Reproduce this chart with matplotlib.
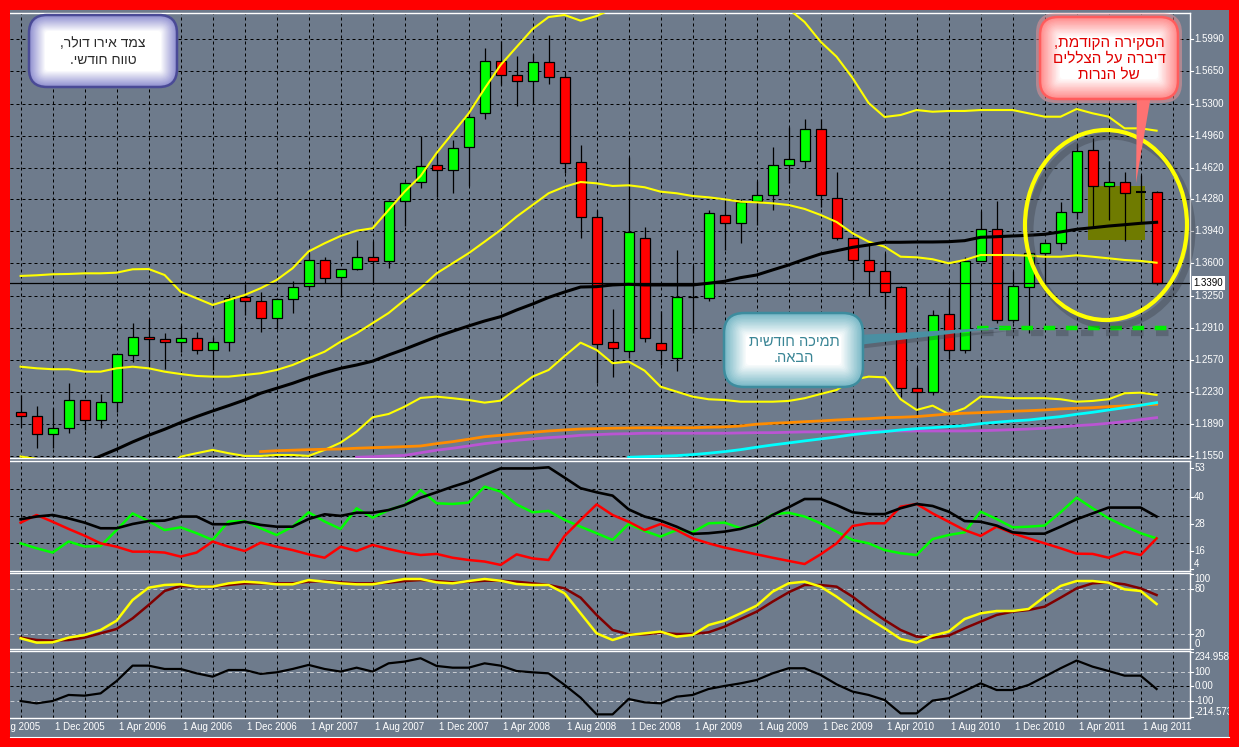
import numpy as np
import matplotlib
matplotlib.use("Agg")
import matplotlib.pyplot as plt
from matplotlib.colors import to_rgb
from matplotlib.patches import Rectangle, FancyBboxPatch, Ellipse, Polygon
from matplotlib.transforms import blended_transform_factory

W, H = 1239, 747
BG = "#6e7b8c"
plt.rcParams["font.family"] = ["Liberation Sans", "DejaVu Sans"]

# EUR/USD monthly candles, Oct 2005 .. Sep 2011 (one entry per month)
opens = [1.2012, 1.1976, 1.1784, 1.1842, 1.2140, 1.1927, 1.2119, 1.2620, 1.2812, 1.2790,
         1.2758, 1.2801, 1.2673, 1.2758, 1.3238, 1.3195, 1.3014, 1.3216, 1.3361, 1.3632,
         1.3451, 1.3536, 1.3670, 1.3621, 1.4261, 1.4463, 1.4644, 1.4591, 1.4836, 1.5198,
         1.5752, 1.5603, 1.5539, 1.5742, 1.5582, 1.4683, 1.4090, 1.2758, 1.2662, 1.3866,
         1.2748, 1.2588, 1.3236, 1.3227, 1.4112, 1.4026, 1.4261, 1.4325, 1.4644, 1.4693,
         1.5028, 1.4293, 1.3866, 1.3632, 1.3515, 1.3352, 1.2268, 1.2225, 1.3057, 1.2673,
         1.3621, 1.3962, 1.2993, 1.3344, 1.3707, 1.3813, 1.4143, 1.4804, 1.4420, 1.4463,
         1.4357, 1.4357]
highs = [1.2197, 1.2080, 1.2055, 1.2321, 1.2148, 1.2204, 1.2635, 1.2964, 1.3003, 1.2861,
         1.2940, 1.2868, 1.2815, 1.3270, 1.3376, 1.3291, 1.3225, 1.3408, 1.3707, 1.3667,
         1.3540, 1.3848, 1.3834, 1.4275, 1.4470, 1.4953, 1.4793, 1.4911, 1.5241, 1.5891,
         1.5965, 1.5812, 1.5827, 1.6033, 1.5625, 1.4857, 1.4168, 1.3110, 1.4729, 1.3984,
         1.3089, 1.3739, 1.3582, 1.4168, 1.4274, 1.4285, 1.4474, 1.4839, 1.5049, 1.5138,
         1.5138, 1.4576, 1.3880, 1.3813, 1.3707, 1.3355, 1.2492, 1.3102, 1.3323, 1.3670,
         1.4154, 1.4267, 1.3515, 1.3740, 1.3830, 1.4250, 1.4874, 1.4932, 1.4687, 1.4570,
         1.4538, 1.4370]
lows = [1.1859, 1.1635, 1.1635, 1.1795, 1.1823, 1.1848, 1.2019, 1.2545, 1.2498, 1.2477,
        1.2652, 1.2630, 1.2466, 1.2669, 1.3046, 1.2865, 1.2903, 1.3067, 1.3316, 1.3387,
        1.3244, 1.3525, 1.3380, 1.3547, 1.4000, 1.4399, 1.4303, 1.4352, 1.4420, 1.5134,
        1.5497, 1.5273, 1.5294, 1.5507, 1.4559, 1.3873, 1.2321, 1.2385, 1.2588, 1.2758,
        1.2516, 1.2449, 1.2854, 1.3202, 1.3742, 1.3820, 1.4005, 1.4165, 1.4452, 1.4612,
        1.4197, 1.3848, 1.3422, 1.3252, 1.3110, 1.2170, 1.1965, 1.2197, 1.2577, 1.2641,
        1.3620, 1.2961, 1.2961, 1.2854, 1.3302, 1.3739, 1.4069, 1.3973, 1.4058, 1.3834,
        1.4026, 1.3366]
closes = [1.1976, 1.1784, 1.1842, 1.2140, 1.1927, 1.2119, 1.2630, 1.2812, 1.2790, 1.2758,
          1.2801, 1.2673, 1.2758, 1.3227, 1.3195, 1.3014, 1.3216, 1.3344, 1.3632, 1.3440,
          1.3536, 1.3670, 1.3621, 1.4261, 1.4459, 1.4634, 1.4591, 1.4832, 1.5162, 1.5752,
          1.5603, 1.5539, 1.5742, 1.5582, 1.4666, 1.4090, 1.2740, 1.2694, 1.3930, 1.2801,
          1.2673, 1.3238, 1.3240, 1.4133, 1.4026, 1.4250, 1.4325, 1.4644, 1.4708, 1.5028,
          1.4325, 1.3866, 1.3632, 1.3515, 1.3291, 1.2268, 1.2225, 1.3046, 1.2673, 1.3621,
          1.3962, 1.2993, 1.3355, 1.3707, 1.3813, 1.4143, 1.4793, 1.4420, 1.4463, 1.4346,
          1.4357, 1.3390]

# Bollinger bands
bb_upper = [1.3465, 1.3472, 1.3483, 1.3486, 1.3493, 1.3493, 1.3500, 1.3536, 1.3539, 1.3475,
            1.3297, 1.3227, 1.3156, 1.3209, 1.3262, 1.3334, 1.3422, 1.3547, 1.3726, 1.3813,
            1.3891, 1.3947, 1.3973, 1.4168, 1.4363, 1.4530, 1.4775, 1.4986, 1.5196, 1.5462,
            1.5713, 1.5905, 1.6096, 1.6224, 1.6246, 1.6185, 1.6235, 1.6313, 1.6311, 1.6364,
            1.6441, 1.6460, 1.6456, 1.6456, 1.6420, 1.6387, 1.6375, 1.6353, 1.6310, 1.6171,
            1.5961, 1.5801, 1.5574, 1.5308, 1.5159, 1.5180, 1.5233, 1.5215, 1.5223, 1.5223,
            1.5233, 1.5233, 1.5233, 1.5198, 1.5162, 1.5162, 1.5244, 1.5198, 1.5162, 1.5038,
            1.5038, 1.5013]
bb_mid = [1.2498, 1.2481, 1.2471, 1.2471, 1.2445, 1.2445, 1.2481, 1.2498, 1.2481, 1.2445,
          1.2420, 1.2399, 1.2392, 1.2392, 1.2410, 1.2428, 1.2463, 1.2516, 1.2588, 1.2658,
          1.2765, 1.2854, 1.2962, 1.3070, 1.3209, 1.3337, 1.3493, 1.3600, 1.3707, 1.3830,
          1.3955, 1.4097, 1.4221, 1.4346, 1.4416, 1.4466, 1.4452, 1.4424, 1.4431, 1.4410,
          1.4363, 1.4346, 1.4317, 1.4303, 1.4282, 1.4256, 1.4250, 1.4239, 1.4221, 1.4179,
          1.4115, 1.4040, 1.3920, 1.3830, 1.3777, 1.3670, 1.3664, 1.3643, 1.3600, 1.3635,
          1.3688, 1.3688, 1.3688, 1.3681, 1.3670, 1.3670, 1.3685, 1.3670, 1.3653, 1.3635,
          1.3625, 1.3606]
bb_lower = [1.1541, 1.1515, 1.1458, 1.1455, 1.1398, 1.1398, 1.1462, 1.1462, 1.1423, 1.1415,
            1.1539, 1.1576, 1.1611, 1.1576, 1.1547, 1.1547, 1.1557, 1.1557, 1.1547, 1.1611,
            1.1689, 1.1806, 1.1959, 1.1994, 1.2072, 1.2165, 1.2179, 1.2162, 1.2143, 1.2115,
            1.2136, 1.2268, 1.2392, 1.2463, 1.2612, 1.2754, 1.2676, 1.2535, 1.2552, 1.2456,
            1.2285, 1.2232, 1.2179, 1.2151, 1.2143, 1.2125, 1.2125, 1.2125, 1.2133, 1.2162,
            1.2207, 1.2250, 1.2357, 1.2392, 1.2385, 1.2151, 1.2037, 1.2083, 1.1994, 1.2055,
            1.2179, 1.2172, 1.2162, 1.2162, 1.2162, 1.2151, 1.2125, 1.2133, 1.2151, 1.2215,
            1.2221, 1.2197]
# moving averages
ma_black = [1.1174, 1.1248, 1.1323, 1.1398, 1.1472, 1.1547, 1.1618, 1.1696, 1.1767, 1.1831,
            1.1902, 1.1966, 1.2026, 1.2083, 1.2143, 1.2215, 1.2268, 1.2321, 1.2381, 1.2434,
            1.2481, 1.2516, 1.2557, 1.2623, 1.2684, 1.2751, 1.2818, 1.2876, 1.2932, 1.2985,
            1.3031, 1.3102, 1.3166, 1.3236, 1.3294, 1.3347, 1.3351, 1.3369, 1.3376, 1.3369,
            1.3369, 1.3369, 1.3369, 1.3387, 1.3408, 1.3447, 1.3475, 1.3529, 1.3582, 1.3643,
            1.3699, 1.3734, 1.3770, 1.3795, 1.3824, 1.3824, 1.3827, 1.3827, 1.3830, 1.3841,
            1.3877, 1.3883, 1.3891, 1.3898, 1.3909, 1.3934, 1.3962, 1.3979, 1.3997, 1.4011,
            1.4026, 1.4037]
ma_orange = [None] * 15 + [
    1.1593, 1.1603, 1.1608, 1.1614, 1.1618, 1.1621, 1.1629, 1.1635, 1.1640, 1.1646,
    1.1653, 1.1678, 1.1699, 1.1725, 1.1752, 1.1767, 1.1784, 1.1799, 1.1813, 1.1824,
    1.1834, 1.1838, 1.1842, 1.1845, 1.1848, 1.1848, 1.1848, 1.1848, 1.1853, 1.1856,
    1.1866, 1.1885, 1.1895, 1.1902, 1.1912, 1.1920, 1.1930, 1.1938, 1.1944, 1.1955,
    1.1959, 1.1966, 1.1980, 1.1994, 1.2002, 1.2008, 1.2016, 1.2023, 1.2029, 1.2037,
    1.2048, 1.2055, 1.2061, 1.2072, 1.2080, 1.2090, 1.2098]
ma_purple = [None] * 21 + [
    1.1533, 1.1539, 1.1547, 1.1552, 1.1581, 1.1608, 1.1629, 1.1653, 1.1678, 1.1696,
    1.1714, 1.1728, 1.1742, 1.1752, 1.1767, 1.1774, 1.1781, 1.1784, 1.1789, 1.1789,
    1.1789, 1.1789, 1.1789, 1.1789, 1.1792, 1.1795, 1.1795, 1.1799, 1.1803, 1.1803,
    1.1806, 1.1806, 1.1810, 1.1813, 1.1813, 1.1813, 1.1813, 1.1813, 1.1813, 1.1816,
    1.1821, 1.1827, 1.1834, 1.1842, 1.1856, 1.1870, 1.1880, 1.1895, 1.1912, 1.1934,
    1.1955]
ma_cyan = [None] * 38 + [
    1.1533, 1.1539, 1.1544, 1.1550, 1.1561, 1.1576, 1.1593, 1.1614, 1.1640, 1.1664,
    1.1685, 1.1707, 1.1728, 1.1749, 1.1774, 1.1792, 1.1806, 1.1824, 1.1838, 1.1848,
    1.1859, 1.1870, 1.1891, 1.1906, 1.1920, 1.1930, 1.1949, 1.1966, 1.1991, 1.2012,
    1.2037, 1.2061, 1.2087, 1.2115]

# ADX panel
adx = [30.1, 31.3, 32.0, 30.5, 28.6, 26.1, 26.1, 28.0, 29.3, 29.5,
       31.3, 31.3, 27.9, 27.9, 29.0, 27.6, 26.8, 26.8, 30.2, 32.3,
       31.6, 33.0, 33.0, 34.2, 36.4, 39.7, 42.1, 44.6, 46.8, 49.8,
       52.7, 52.7, 52.7, 53.2, 48.6, 43.9, 42.1, 40.6, 34.5, 31.3,
       29.5, 26.8, 23.6, 23.9, 24.6, 25.8, 28.0, 32.0, 35.4, 39.1,
       39.1, 36.4, 33.2, 32.4, 32.4, 35.0, 36.9, 36.0, 33.5, 29.3,
       29.0, 27.3, 24.3, 23.7, 23.7, 26.8, 30.1, 32.7, 35.3, 35.3,
       35.3, 31.3]
plus_di = [19.4, 17.2, 15.3, 20.2, 18.0, 18.2, 25.3, 32.7, 29.3, 25.3,
           26.5, 23.9, 20.9, 29.1, 29.3, 26.1, 23.1, 26.8, 33.2, 29.1,
           25.8, 35.0, 30.8, 34.2, 36.4, 43.1, 37.2, 36.9, 37.5, 44.6,
           42.4, 36.7, 33.2, 33.8, 29.8, 26.8, 23.9, 20.9, 28.0, 24.9,
           22.4, 25.3, 24.3, 28.3, 28.6, 26.1, 27.6, 32.3, 33.0, 31.3,
           28.3, 24.6, 20.9, 19.4, 16.4, 15.0, 14.2, 21.3, 23.1, 24.3,
           33.5, 30.2, 26.5, 26.8, 27.3, 33.2, 39.7, 35.0, 30.5, 27.1,
           23.9, 21.6]
minus_di = [28.6, 32.0, 29.0, 25.8, 22.8, 19.4, 17.9, 15.7, 15.7, 15.3,
            13.5, 15.3, 20.2, 17.9, 16.0, 19.7, 17.9, 16.4, 14.5, 13.0,
            17.9, 16.0, 18.7, 16.9, 15.3, 14.2, 14.7, 13.0, 12.0, 11.3,
            9.8, 14.5, 12.7, 12.0, 22.7, 29.8, 36.7, 32.0, 29.0, 25.3,
            28.0, 25.3, 21.6, 19.4, 17.5, 16.0, 14.5, 13.0, 11.6, 10.2,
            14.5, 19.4, 27.1, 28.3, 28.3, 35.7, 36.9, 32.7, 29.0, 25.3,
            22.7, 26.8, 23.9, 21.6, 19.4, 17.2, 14.8, 14.7, 13.0, 15.7,
            14.2, 21.6]
# Stochastic panel
stoch_k = [14.7, 8.9, 9.3, 15.6, 19.1, 25.8, 38.2, 65.8, 82.2, 85.8,
           86.7, 83.6, 83.6, 88.0, 90.2, 88.9, 86.7, 86.7, 92.4, 90.2,
           88.0, 86.7, 86.7, 90.2, 93.8, 93.8, 89.3, 88.0, 91.1, 93.8,
           91.5, 87.1, 85.8, 85.8, 74.7, 48.0, 21.3, 12.4, 19.1, 21.3,
           23.6, 16.9, 19.1, 32.4, 38.2, 48.0, 58.2, 76.9, 88.0, 90.2,
           83.6, 70.2, 54.7, 41.3, 28.0, 13.8, 8.9, 18.2, 23.6, 40.4,
           48.0, 51.1, 51.1, 53.8, 70.2, 84.5, 91.1, 91.1, 88.9, 80.0,
           77.8, 60.4]
stoch_d = [15.6, 12.4, 11.6, 12.4, 15.6, 21.3, 27.1, 41.3, 59.1, 77.8,
           84.5, 83.6, 83.6, 85.8, 88.0, 88.0, 88.0, 88.0, 90.2, 91.1,
           89.3, 88.0, 88.0, 88.9, 91.1, 92.4, 91.1, 89.3, 90.2, 91.5,
           91.5, 90.2, 88.0, 85.8, 81.3, 68.9, 45.8, 25.8, 20.0, 20.0,
           22.2, 20.4, 20.4, 22.7, 30.2, 40.4, 50.2, 63.6, 76.0, 85.8,
           85.8, 83.6, 70.2, 53.8, 39.1, 25.8, 16.9, 15.6, 18.2, 28.0,
           36.9, 45.8, 50.2, 52.4, 56.9, 68.9, 81.3, 88.0, 89.3, 86.7,
           81.3, 72.4]
# CCI panel
cci = [-102, -118, -102, -60, -65, -49, 36, 142, 142, 119,
       119, 89, 66, 112, 112, 85, 96, 119, 147, 119,
       101, 128, 101, 158, 170, 193, 140, 128, 128, 158,
       142, 105, 96, 89, 9, -79, -194, -194, -88, -111,
       -118, -72, -60, -19, 2, 20, 43, 89, 124, 124,
       78, 13, -37, -60, -95, -187, -187, -99, -83, -33,
       20, -26, -26, 9, 66, 124, 177, 135, 105, 73,
       73, -19]

price_ticks = [1.1550, 1.1890, 1.2230, 1.2570, 1.2910, 1.3250, 1.3600,
               1.3940, 1.4280, 1.4620, 1.4960, 1.5300, 1.5650, 1.5990]
last_price = 1.3390
date_labels = ["1 Aug 2005", "1 Dec 2005", "1 Apr 2006", "1 Aug 2006", "1 Dec 2006",
               "1 Apr 2007", "1 Aug 2007", "1 Dec 2007", "1 Apr 2008", "1 Aug 2008",
               "1 Dec 2008", "1 Apr 2009", "1 Aug 2009", "1 Dec 2009", "1 Apr 2010",
               "1 Aug 2010", "1 Dec 2010", "1 Apr 2011", "1 Aug 2011"]
date_label_bars = list(range(-2, 71, 4))   # bar index of each label (bar 0 = Oct 2005)

# annotations drawn on the price panel
support_level = 1.2910
support_bars = (59.75, 71.95)
shadow_box_bars = (66.7, 70.3)
shadow_box_prices = (1.3848, 1.4424)

note_pair = "צמד אירו דולר,\nטווח חודשי."
note_prev = "הסקירה הקודמת,\nדיברה על הצללים\nשל הנרות"
note_support = "תמיכה חודשית\nהבאה."


def visual(s):
    # matplotlib has no bidi support: lay Hebrew lines out right-to-left by hand
    return "\n".join(line[::-1] for line in s.split("\n"))


def px_rect(x0, y0, x1, y1):
    return [x0 / W, 1 - y1 / H, (x1 - x0) / W, (y1 - y0) / H]


def arr(v):
    return np.array([np.nan if a is None else a for a in v], dtype=float)


x = np.arange(len(closes))
fig = plt.figure(figsize=(W / 100, H / 100), dpi=100, facecolor=BG)
ax_p = fig.add_axes(px_rect(10, 13, 1190, 458))
ax_adx = fig.add_axes(px_rect(10, 461, 1190, 571))
ax_st = fig.add_axes(px_rect(10, 573, 1190, 649))
ax_cci = fig.add_axes(px_rect(10, 651, 1190, 718))
panels = [ax_p, ax_adx, ax_st, ax_cci]

GRID = dict(color="black", lw=0.72, ls=(0, (3, 3)), zorder=0.5)
for ax in panels:
    ax.set_facecolor(BG)
    ax.set_xlim(-0.6625, 73.0875)
    ax.set_xticks([])
    ax.set_yticks([])
    for side in ("top", "bottom", "right"):
        ax.spines[side].set_color("white")
        ax.spines[side].set_linewidth(1)
    ax.spines["left"].set_visible(False)
    for m in range(0, 73, 2):
        ax.axvline(m, **GRID)


def rlabel(ax, v, s, va="center", ytrans=None):
    tr = blended_transform_factory(ax.transAxes, ytrans or ax.transData)
    ax.text(1.0035, v, s, transform=tr, color="white", fontsize=7,
            ha="left", va=va, clip_on=False)
    ax.plot([1.0, 1.0025], [v, v], transform=tr, color="white", lw=0.8, clip_on=False)


# ---- price panel ----
ax_p.set_ylim(1.1525, 1.6267)
for p in price_ticks:
    ax_p.axhline(p, **GRID)
    rlabel(ax_p, p, f"{p:.4f}")

x0b, x1b = shadow_box_bars
y0b, y1b = shadow_box_prices
ax_p.add_patch(Rectangle((x0b, y0b), x1b - x0b, y1b - y0b, fc="#6f7b00", ec="none", zorder=1))

ax_p.vlines(x, lows, highs, color="black", lw=0.9, zorder=2)
for i in x:
    o, c = opens[i], closes[i]
    if abs(c - o) < 0.0003:
        ax_p.hlines(o, i - 0.31, i + 0.31, color="black", lw=1.5, zorder=3)
        continue
    ax_p.add_patch(Rectangle((i - 0.31, min(o, c)), 0.62, abs(c - o),
                             fc="#00ff00" if c > o else "#ff0000", ec="black",
                             lw=0.9, zorder=3))

for band in (bb_upper, bb_mid, bb_lower):
    ax_p.plot(x, band, color="#ffff00", lw=1.5, zorder=4)
ax_p.plot(x, arr(ma_orange), color="#ff8c00", lw=2, zorder=4)
ax_p.plot(x, arr(ma_purple), color="#ba55d3", lw=2, zorder=4)
ax_p.plot(x, arr(ma_cyan), color="#00ffff", lw=2, zorder=4)
ax_p.plot(x, ma_black, color="black", lw=2.2, zorder=4)
ax_p.axhline(last_price, color="black", lw=0.9, zorder=4.5)
ax_p.text(1.003, last_price, f"{last_price:.4f}", color="black", fontsize=7,
          ha="left", va="center", clip_on=False,
          transform=blended_transform_factory(ax_p.transAxes, ax_p.transData),
          bbox=dict(boxstyle="square,pad=0.2", fc="white", ec="none"))

# support line with soft shadow
ax_p.plot([support_bars[0] + 0.25, support_bars[1] + 0.25],
          [support_level - 0.0055] * 2, color="#3a3f48", lw=4.5, alpha=0.35,
          ls=(0, (2, 2)), zorder=4.6, solid_capstyle="butt")
ax_p.plot(support_bars, [support_level] * 2, color="#00ee00", lw=3.2,
          ls=(0, (2.6, 2.4)), zorder=4.7)

# ---- ADX panel ----
ax_adx.set_ylim(7.1, 56.0)
for lv in (43.56, 31.33, 19.56):
    ax_adx.axhline(lv, **GRID)
ax_adx.plot(x, plus_di, color="#00ff00", lw=1.8, zorder=3)
ax_adx.plot(x, minus_di, color="#ff0000", lw=1.8, zorder=3)
ax_adx.plot(x, adx, color="black", lw=1.9, zorder=4)
for v in (53, 40, 28, 16):
    rlabel(ax_adx, v, str(v))
rlabel(ax_adx, 0.02, "4", va="bottom", ytrans=ax_adx.transAxes)

# ---- Stochastic panel ----
ax_st.set_ylim(0.4, 101.8)
for lv in (80, 20):
    ax_st.axhline(lv, color="#c8ccd2", lw=0.7, ls=(0, (4, 3)), zorder=0.6)
ax_st.plot(x, stoch_d, color="#800000", lw=1.8, zorder=3)
ax_st.plot(x, stoch_k, color="#ffff00", lw=1.8, zorder=4)
rlabel(ax_st, 100, "100", va="top")
rlabel(ax_st, 80, "80")
rlabel(ax_st, 20, "20")
rlabel(ax_st, 0.4, "0", va="bottom")

# ---- CCI panel ----
ax_cci.set_ylim(-219, 243)
for lv in (100, -100):
    ax_cci.axhline(lv, color="#c8ccd2", lw=0.7, ls=(0, (4, 3)), zorder=0.6)
ax_cci.axhline(0, **GRID)
ax_cci.plot(x, cci, color="black", lw=1.6, zorder=3)
rlabel(ax_cci, 234.9585, "234.9585", va="top")
rlabel(ax_cci, 100, "100")
rlabel(ax_cci, 0, "0.00")
rlabel(ax_cci, -100, "-100")
rlabel(ax_cci, -214.573, "-214.573", va="bottom")

date_tr = blended_transform_factory(ax_cci.transData, ax_cci.transAxes)
for b, lab in zip(date_label_bars, date_labels):
    ax_cci.text(b + 0.12, -0.134, lab, transform=date_tr, color="white",
                fontsize=7, ha="left", va="center", clip_on=False)

# ---- overlay in pixel coordinates: callouts, ellipse, frame ----
ov = fig.add_axes([0, 0, 1, 1], zorder=10)
ov.set_xlim(0, W)
ov.set_ylim(H, 0)
ov.axis("off")
ov.patch.set_alpha(0)


def glow_box(x0, y0, x1, y1, r, inner, outer, edge, depth, steps=16, lw=1.8):
    w, h = x1 - x0, y1 - y0
    ci, co = np.array(to_rgb(inner)), np.array(to_rgb(outer))
    for k in range(steps):
        t = k / (steps - 1)
        d = depth * t
        col = co * (1 - t) + ci * t
        ov.add_patch(FancyBboxPatch((x0 + d, y0 + d), w - 2 * d, h - 2 * d,
                                    boxstyle=f"round,pad=0,rounding_size={max(r - d, 3)}",
                                    fc=col, ec="none"))
    ov.add_patch(FancyBboxPatch((x0, y0), w, h, boxstyle=f"round,pad=0,rounding_size={r}",
                                fc="none", ec=edge, lw=lw))


# yellow ellipse around the last candles, with shadow
ov.add_patch(Ellipse((1111, 231), 162, 190, fc="none", ec="#30343c", lw=5, alpha=0.3))
ov.add_patch(Ellipse((1106, 225), 162, 190, fc="none", ec="#ffff00", lw=3))

# top-left title box
glow_box(29, 15, 177, 87, 18, "white", "#8f8fd0", "#4a4a96", depth=16)
ov.text(103, 51.5, visual(note_pair), ha="center", va="center", fontsize=10,
        color="#2a2a2a", linespacing=1.3)

# pink callout with pointer
ov.add_patch(FancyBboxPatch((1036, 13), 146, 90, boxstyle="round,pad=0,rounding_size=20",
                            fc="#ff9a9a", ec="none", alpha=0.45))
ov.add_patch(Polygon([(1137, 95), (1151, 95), (1136, 183)], closed=True,
                     fc="#ff7272", ec="none"))
glow_box(1040, 17, 1178, 99, 18, "white", "#ff8c8c", "#ff5c5c", depth=20)
ov.text(1109, 59, visual(note_prev), ha="center", va="center", fontsize=11,
        color="#e00000", linespacing=1.15)

# teal callout with pointer to the support line
ov.add_patch(Polygon([(858, 338), (858, 349), (1010, 331)], closed=True,
                     fc="#30343c", ec="none", alpha=0.3))
ov.add_patch(Polygon([(858, 335), (858, 345), (1008, 327)], closed=True,
                     fc="#4a8fa2", ec="none"))
glow_box(724, 313, 863, 387, 20, "white", "#78b8c6", "#3d8c9e", depth=22)
ov.text(794, 350, visual(note_support), ha="center", va="center", fontsize=10.5,
        color="#3a8595", linespacing=1.25)

# red frame
ov.plot([9.5, 1229], [736.5, 736.5], color="white", lw=0.8)
for rx, ry, rw, rh in ((0, 0, W, 10), (0, 0, 9.5, H), (1229, 0, 10, H), (0, 737, W, 10)):
    ov.add_patch(Rectangle((rx, ry), rw, rh, fc="#ff0000", ec="none"))

fig.savefig("out.png", dpi=100, facecolor=BG)
